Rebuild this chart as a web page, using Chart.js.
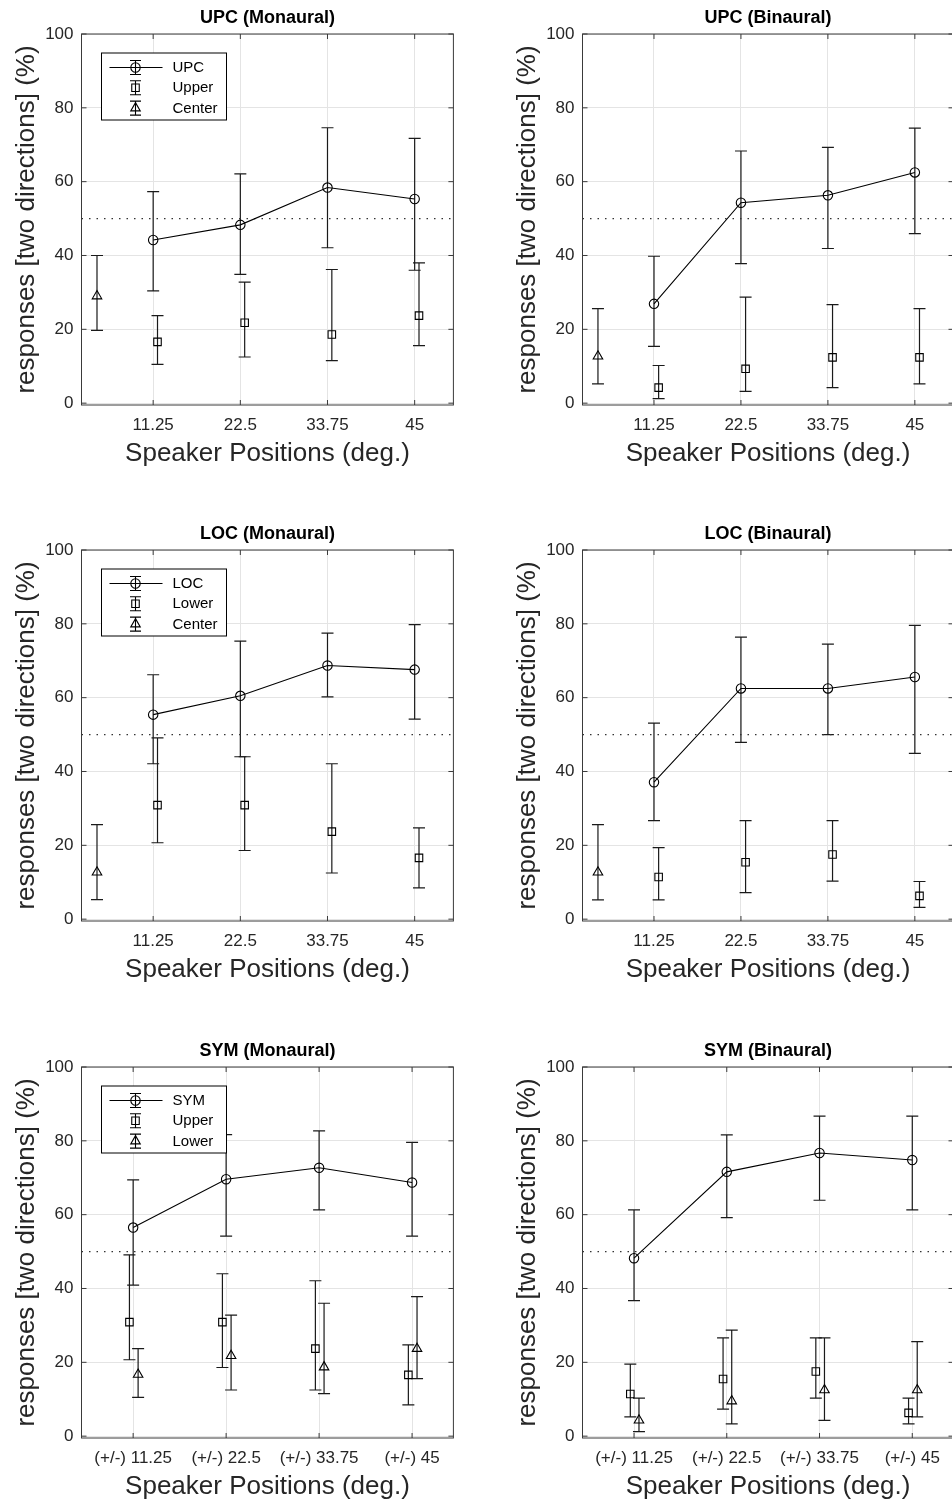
<!DOCTYPE html>
<html>
<head>
<meta charset="utf-8">
<title>Responses by speaker position</title>
<script src="https://cdn.jsdelivr.net/npm/chart.js@4.4.1/dist/chart.umd.min.js"></script>
<style>
  html, body { margin: 0; padding: 0; background: #fff; width: 952px; height: 1504px; overflow: hidden; }
  canvas { position: absolute; }
</style>
</head>
<body>
<script>
// speaker positions (deg.) and axis ticks
const positions = [11.25, 22.5, 33.75, 45];
const centerPos = [4];
const tickLabels = ['11.25', '22.5', '33.75', '45'];
const symTickLabels = ['(+/-) 11.25', '(+/-) 22.5', '(+/-) 33.75', '(+/-) 45'];
const yTicks = [0, 20, 40, 60, 80, 100];

// UPC, monaural
const upcMonMean = [44.2, 48.3, 58.4, 55.3];
const upcMonLo = [30.4, 34.9, 42.1, 36.0];
const upcMonHi = [57.3, 62.1, 74.6, 71.7];
const upcMonUpper = [16.6, 21.8, 18.6, 23.7];
const upcMonUpperLo = [10.5, 12.5, 11.5, 15.6];
const upcMonUpperHi = [23.7, 32.8, 36.2, 38.0];
const upcMonCenter = [29.0];
const upcMonCenterLo = [19.7];
const upcMonCenterHi = [40.0];

// UPC, binaural
const upcBinMean = [26.9, 54.3, 56.3, 62.5];
const upcBinLo = [15.4, 37.8, 41.9, 45.9];
const upcBinHi = [39.8, 68.3, 69.3, 74.5];
const upcBinUpper = [4.2, 9.3, 12.4, 12.4];
const upcBinUpperLo = [1.2, 3.2, 4.2, 5.2];
const upcBinUpperHi = [10.2, 28.7, 26.7, 25.6];
const upcBinCenter = [12.7];
const upcBinCenterLo = [5.2];
const upcBinCenterHi = [25.6];

// LOC, monaural
const locMonMean = [55.4, 60.5, 68.7, 67.6];
const locMonLo = [42.1, 44.0, 60.2, 54.2];
const locMonHi = [66.2, 75.3, 77.5, 79.8];
const locMonLower = [30.9, 30.9, 23.7, 16.6];
const locMonLowerLo = [20.7, 18.6, 12.5, 8.5];
const locMonLowerHi = [49.1, 44.0, 42.1, 24.7];
const locMonCenter = [12.7];
const locMonCenterLo = [5.3];
const locMonCenterHi = [25.6];

// LOC, binaural
const locBinMean = [37.1, 62.5, 62.5, 65.6];
const locBinLo = [26.7, 47.9, 50.0, 44.9];
const locBinHi = [53.1, 76.4, 74.5, 79.6];
const locBinLower = [11.4, 15.4, 17.5, 6.3];
const locBinLowerLo = [5.2, 7.2, 10.3, 3.2];
const locBinLowerHi = [19.4, 26.7, 26.7, 10.2];
const locBinCenter = [12.7];
const locBinCenterLo = [5.2];
const locBinCenterHi = [25.6];

// SYM, monaural
const symMonMean = [56.5, 69.6, 72.7, 68.7];
const symMonLo = [40.9, 54.2, 61.3, 54.2];
const symMonHi = [69.4, 81.7, 82.7, 79.6];
const symMonUpper = [30.9, 30.9, 23.7, 16.6];
const symMonUpperLo = [20.7, 18.6, 12.5, 8.5];
const symMonUpperHi = [49.1, 44.0, 42.1, 24.7];
const symMonLower = [16.7, 21.8, 18.7, 23.7];
const symMonLowerLo = [10.5, 12.5, 11.5, 15.6];
const symMonLowerHi = [23.7, 32.8, 36.0, 37.8];

// SYM, binaural
const symBinMean = [48.2, 71.6, 76.7, 74.8];
const symBinLo = [36.7, 59.2, 63.9, 61.3];
const symBinHi = [61.3, 81.6, 86.7, 86.7];
const symBinUpper = [11.4, 15.5, 17.5, 6.3];
const symBinUpperLo = [5.2, 7.3, 10.3, 3.3];
const symBinUpperHi = [19.5, 26.6, 26.6, 10.3];
const symBinLower = [4.3, 9.5, 12.5, 12.5];
const symBinLowerLo = [1.2, 3.3, 4.3, 5.2];
const symBinLowerHi = [10.3, 28.7, 26.6, 25.6];

Chart.defaults.font.family = '"Liberation Sans", Arial, Helvetica, sans-serif';
Chart.defaults.color = '#262626';

const ink = '#1a1a1a';
const gridColor = '#e4e4e4';
const markerSize = { circle: 4.7, rect: 5.3, triangle: 5.5 };

function points(xs, ys, shift) {
  return ys.map((y, i) => ({ x: xs[i] + shift, y: y }));
}

function series(label, style, xs, shift, mean, lo, hi, showLine) {
  return {
    label: label,
    data: points(xs, mean, shift),
    lo: lo,
    hi: hi,
    showLine: showLine,
    borderColor: '#000',
    borderWidth: 1.1,
    backgroundColor: 'rgba(0,0,0,0)',
    pointStyle: style,
    pointRadius: markerSize[style],
    pointBorderWidth: 1.1,
    pointBorderColor: '#000',
    pointBackgroundColor: 'rgba(0,0,0,0)'
  };
}

// vertical error bars with caps, from each dataset's lo/hi arrays
const errorBars = {
  id: 'errorBars',
  beforeDatasetsDraw(chart) {
    const ctx = chart.ctx, sx = chart.scales.x, sy = chart.scales.y;
    ctx.save();
    ctx.strokeStyle = ink;
    ctx.lineWidth = 1.2;
    chart.data.datasets.forEach(ds => {
      if (!ds.lo) return;
      ds.data.forEach((p, i) => {
        const px = sx.getPixelForValue(p.x);
        const yl = sy.getPixelForValue(ds.lo[i]);
        const yh = sy.getPixelForValue(ds.hi[i]);
        ctx.beginPath();
        ctx.moveTo(px, yl); ctx.lineTo(px, yh);
        ctx.moveTo(px - 6, yl); ctx.lineTo(px + 6, yl);
        ctx.moveTo(px - 6, yh); ctx.lineTo(px + 6, yh);
        ctx.stroke();
      });
    });
    ctx.restore();
  }
};

// full box round the plot with inward tick marks on all sides
const frame = {
  id: 'frame',
  afterDatasetsDraw(chart) {
    const ctx = chart.ctx, a = chart.chartArea;
    const sx = chart.scales.x, sy = chart.scales.y;
    ctx.save();
    ctx.strokeStyle = '#3a3a3a';
    ctx.lineWidth = 1;
    ctx.strokeRect(a.left, a.top, a.right - a.left, a.bottom - a.top);
    ctx.beginPath();
    sx.ticks.forEach(t => {
      const px = sx.getPixelForValue(t.value);
      ctx.moveTo(px, a.bottom); ctx.lineTo(px, a.bottom - 5);
      ctx.moveTo(px, a.top); ctx.lineTo(px, a.top + 5);
    });
    sy.ticks.forEach(t => {
      const py = sy.getPixelForValue(t.value);
      ctx.moveTo(a.left, py); ctx.lineTo(a.left + 5, py);
      ctx.moveTo(a.right, py); ctx.lineTo(a.right - 5, py);
    });
    ctx.stroke();
    ctx.restore();
  }
};

// boxed legend in the upper left with errorbar glyphs
const boxLegend = {
  id: 'boxLegend',
  afterDraw(chart, args, opts) {
    if (!opts.display) return;
    const ctx = chart.ctx, a = chart.chartArea;
    const bx = a.left + 20, by = a.top + 19;
    const items = chart.data.datasets.filter(ds => ds.lo);
    ctx.save();
    ctx.fillStyle = '#fff';
    ctx.fillRect(bx, by, 125, 67);
    ctx.strokeStyle = '#000';
    ctx.lineWidth = 1;
    ctx.strokeRect(bx, by, 125, 67);
    items.forEach((ds, i) => {
      const cy = by + 14.5 + i * 20.3;
      const mx = bx + 34;
      ctx.strokeStyle = '#000';
      ctx.lineWidth = 1.1;
      ctx.beginPath();
      if (ds.showLine) { ctx.moveTo(bx + 8, cy); ctx.lineTo(bx + 61, cy); }
      ctx.moveTo(mx, cy - 7); ctx.lineTo(mx, cy + 7);
      ctx.moveTo(mx - 5.5, cy - 7); ctx.lineTo(mx + 5.5, cy - 7);
      ctx.moveTo(mx - 5.5, cy + 7); ctx.lineTo(mx + 5.5, cy + 7);
      ctx.stroke();
      ctx.fillStyle = 'rgba(0,0,0,0)';
      Chart.helpers.drawPoint(ctx, {
        pointStyle: ds.pointStyle, radius: ds.pointRadius, borderWidth: 1.1, rotation: 0
      }, mx, cy);
      ctx.fillStyle = '#000';
      ctx.font = '15px "Liberation Sans", Arial, sans-serif';
      ctx.textBaseline = 'middle';
      ctx.textAlign = 'left';
      ctx.fillText(ds.label, bx + 71, cy + 0.5);
    });
    ctx.restore();
  }
};

function makePanel(p) {
  const canvas = document.createElement('canvas');
  canvas.width = 460;
  canvas.height = 481;
  canvas.style.left = p.left + 'px';
  canvas.style.top = p.top + 'px';
  document.body.appendChild(canvas);

  const halfLine = {
    label: 'chance',
    data: [{ x: p.xMin, y: 50 }, { x: 50, y: 50 }],
    showLine: true,
    borderColor: '#333',
    borderWidth: 1.3,
    borderDash: [1.5, 6],
    pointRadius: 0
  };

  return new Chart(canvas, {
    type: 'scatter',
    data: { datasets: p.datasets.concat([halfLine]) },
    options: {
      responsive: false,
      animation: false,
      devicePixelRatio: 1,
      events: [],
      layout: { padding: { top: 0, left: 0, bottom: 0, right: 460 - 81.5 - p.plotW } },
      plugins: {
        legend: { display: false },
        tooltip: { enabled: false },
        title: {
          display: true,
          text: p.title,
          fullSize: false,
          color: '#000',
          font: { size: 18, weight: 'bold', lineHeight: 1 },
          padding: { top: 5, bottom: 7 }
        },
        boxLegend: { display: p.legend }
      },
      scales: {
        x: {
          type: 'linear',
          min: p.xMin,
          max: 50,
          bounds: 'data',
          afterBuildTicks: s => { s.ticks = positions.map(v => ({ value: v })); },
          afterFit: s => { s.height = 80; },
          grid: { color: gridColor, drawTicks: false },
          border: { display: false },
          ticks: {
            padding: 10,
            maxRotation: 0,
            autoSkip: false,
            font: { size: 17 },
            callback: (v, i) => p.labels[i]
          },
          title: {
            display: true,
            text: 'Speaker Positions (deg.)',
            font: { size: 26, lineHeight: 1 },
            padding: { top: 0, bottom: 18 }
          }
        },
        y: {
          min: -0.5,
          max: 100,
          bounds: 'data',
          afterBuildTicks: s => { s.ticks = yTicks.map(v => ({ value: v })); },
          afterFit: s => { s.width = 81.5; },
          grid: { color: gridColor, drawTicks: false },
          border: { display: false },
          ticks: { padding: 8, font: { size: 17 } },
          title: {
            display: true,
            text: 'responses [two directions] (%)',
            font: { size: 26, lineHeight: 1 },
            padding: { top: 13.5, bottom: 0 }
          }
        }
      }
    },
    plugins: [errorBars, frame, boxLegend]
  });
}

makePanel({
  title: 'UPC (Monaural)', left: 0, top: 4, plotW: 374, xMin: 2, labels: tickLabels, legend: true,
  datasets: [
    series('UPC', 'circle', positions, 0, upcMonMean, upcMonLo, upcMonHi, true),
    series('Upper', 'rect', positions, 0.56, upcMonUpper, upcMonUpperLo, upcMonUpperHi, false),
    series('Center', 'triangle', centerPos, 0, upcMonCenter, upcMonCenterLo, upcMonCenterHi, false)
  ]
});

makePanel({
  title: 'UPC (Binaural)', left: 501, top: 4, plotW: 371, xMin: 2, labels: tickLabels, legend: false,
  datasets: [
    series('UPC', 'circle', positions, 0, upcBinMean, upcBinLo, upcBinHi, true),
    series('Upper', 'rect', positions, 0.6, upcBinUpper, upcBinUpperLo, upcBinUpperHi, false),
    series('Center', 'triangle', centerPos, 0, upcBinCenter, upcBinCenterLo, upcBinCenterHi, false)
  ]
});

makePanel({
  title: 'LOC (Monaural)', left: 0, top: 520, plotW: 374, xMin: 2, labels: tickLabels, legend: true,
  datasets: [
    series('LOC', 'circle', positions, 0, locMonMean, locMonLo, locMonHi, true),
    series('Lower', 'rect', positions, 0.56, locMonLower, locMonLowerLo, locMonLowerHi, false),
    series('Center', 'triangle', centerPos, 0, locMonCenter, locMonCenterLo, locMonCenterHi, false)
  ]
});

makePanel({
  title: 'LOC (Binaural)', left: 501, top: 520, plotW: 371, xMin: 2, labels: tickLabels, legend: false,
  datasets: [
    series('LOC', 'circle', positions, 0, locBinMean, locBinLo, locBinHi, true),
    series('Lower', 'rect', positions, 0.6, locBinLower, locBinLowerLo, locBinLowerHi, false),
    series('Center', 'triangle', centerPos, 0, locBinCenter, locBinCenterLo, locBinCenterHi, false)
  ]
});

makePanel({
  title: 'SYM (Monaural)', left: 0, top: 1037, plotW: 374, xMin: 5, labels: symTickLabels, legend: true,
  datasets: [
    series('SYM', 'circle', positions, 0, symMonMean, symMonLo, symMonHi, true),
    series('Upper', 'rect', positions, -0.45, symMonUpper, symMonUpperLo, symMonUpperHi, false),
    series('Lower', 'triangle', positions, 0.6, symMonLower, symMonLowerLo, symMonLowerHi, false)
  ]
});

makePanel({
  title: 'SYM (Binaural)', left: 501, top: 1037, plotW: 371, xMin: 5, labels: symTickLabels, legend: false,
  datasets: [
    series('SYM', 'circle', positions, 0, symBinMean, symBinLo, symBinHi, true),
    series('Upper', 'rect', positions, -0.45, symBinUpper, symBinUpperLo, symBinUpperHi, false),
    series('Lower', 'triangle', positions, 0.6, symBinLower, symBinLowerLo, symBinLowerHi, false)
  ]
});
</script>
</body>
</html>
